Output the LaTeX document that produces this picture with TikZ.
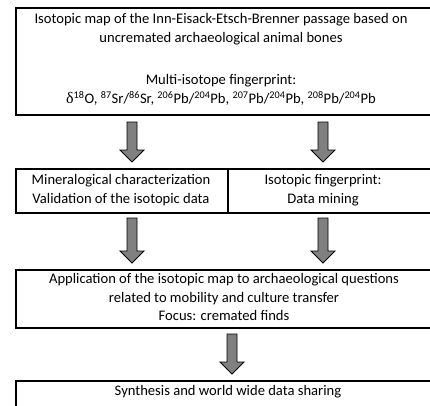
\documentclass[tikz,border=0pt]{standalone}
\usepackage{fontspec}
\setmainfont{Carlito}
\newfontfamily\greekfont{Liberation Serif}
\begin{document}
\begin{tikzpicture}[x=1pt,y=-1pt,
  frame/.style={draw=black,line width=1.6pt,rectangle,inner sep=0pt,anchor=north west},
  label/.style={align=center,font=\fontsize{14.6}{18.5}\selectfont,inner sep=0pt},
  blockarrow/.style={draw=black,fill=gray,line width=0.8pt,line join=miter}]
\useasboundingbox (0,0) rectangle (430,405);
\clip (0,0) rectangle (430,405);
\fill[white] (0,0) rectangle (430,405);

% boxes (they run on past the right edge)
\node[frame,minimum width=430pt,minimum height=107pt] (b1) at (15,7) {};
\node[frame,minimum width=212pt,minimum height=44pt] (b2l) at (15,168) {};
\node[frame,minimum width=218pt,minimum height=44pt] (b2r) at (227,168) {};
\node[frame,minimum width=430pt,minimum height=58pt] (b3) at (15,269) {};
\node[frame,minimum width=430pt,minimum height=60pt] (b4) at (15,380) {};

% texts
\node[label] (t1) at (221,29) {Isotopic map of the Inn-Eisack-Etsch-Brenner passage based on\\uncremated archaeological animal bones};
\node[label] (t1b) at (221,90) {Multi-isotope fingerprint:\\{\greekfont\fontsize{16}{18.5}\selectfont δ}\textsuperscript{18}O, \textsuperscript{87}Sr/\textsuperscript{86}Sr, \textsuperscript{206}Pb/\textsuperscript{204}Pb, \textsuperscript{207}Pb/\textsuperscript{204}Pb, \textsuperscript{208}Pb/\textsuperscript{204}Pb};
\node[label] (t2l) at (121,190) {Mineralogical characterization\\Validation of the isotopic data};
\node[label] (t2r) at (323,190) {Isotopic fingerprint:\\Data mining};
\node[label] (t3) at (224,297) {Application of the isotopic map to archaeological questions\\related to mobility and culture transfer\\Focus: cremated finds};
\node[label] (t4) at (228,392) {Synthesis and world wide data sharing};

% block arrows: #1 = x of the axis, #2 = top, #3 = tip
\newcommand\stagearrow[3]{%
  \draw[blockarrow] (#1-5,#2) -- (#1+5,#2) -- (#1+5,#3-12) -- (#1+12,#3-12)
    -- (#1,#3) -- (#1-12,#3-12) -- (#1-5,#3-12) -- cycle;}
\stagearrow{132}{122}{162}
\stagearrow{323}{122}{162}
\stagearrow{132}{218}{263}
\stagearrow{323}{218}{263}
\stagearrow{232}{334}{374}
\end{tikzpicture}
\end{document}
